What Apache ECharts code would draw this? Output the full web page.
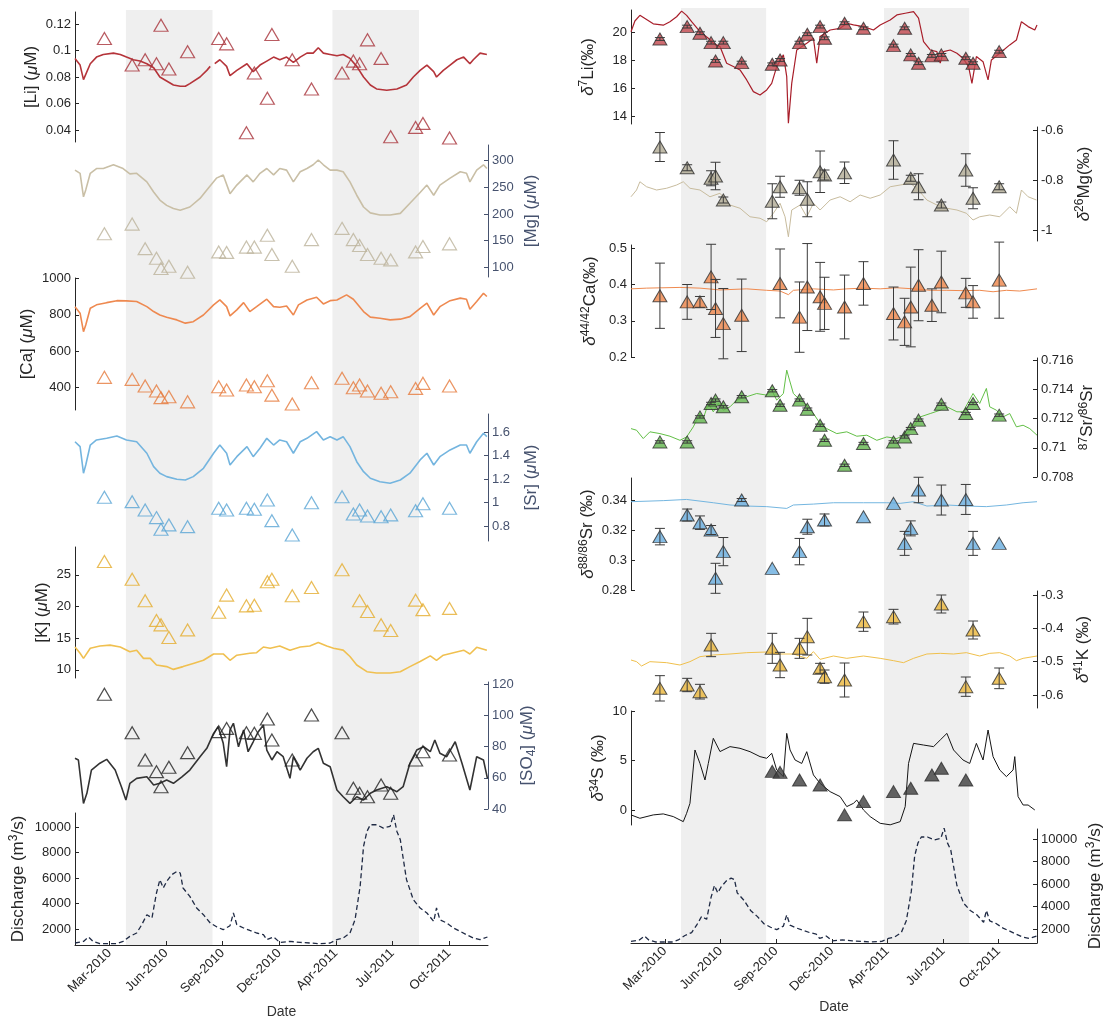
<!DOCTYPE html>
<html>
<head>
<meta charset="utf-8">
<script src="https://cdn.jsdelivr.net/npm/echarts@6/dist/echarts.min.js"></script>
<style>
  html, body { margin: 0; padding: 0; background: #ffffff; }
  #chart { width: 1109px; height: 1021px; }
</style>
</head>
<body>
<div id="chart"></div>
<script>
// Time is measured in days since 1 Jan 2010; the plotted window covers 2010-2011.
const dayRange = [0, 730];
const xTickDays = [61, 161, 261, 361, 461, 561, 661];
const xTickLabels = ['Mar-2010', 'Jun-2010', 'Sep-2010', 'Dec-2010', 'Apr-2011', 'Jul-2011', 'Oct-2011'];
// High-flow season bands (1 Apr - 1 Sep)
const seasonBands = [[90, 243], [455, 608]];

// River water sampling dates
const sampleDays = [52, 101, 124, 144, 152, 166, 199, 254, 268, 303, 317, 340, 348, 384, 418, 472, 492, 503, 517, 541, 558, 602, 615, 662];

// Measured concentrations (uM)
const liConc  = [0.109, 0.089, 0.093, 0.090, 0.119, 0.086, 0.099, 0.109, 0.105, 0.038, 0.083, 0.064, 0.112, 0.093, 0.071, 0.083, 0.092, 0.090, 0.108, 0.094, 0.035, 0.042, 0.045, 0.034];
const mgConc  = [163, 181, 135, 117, 98, 102, 91, 129, 128, 138, 138, 160, 124, 102, 152, 173, 152, 141, 124, 117, 114, 129, 139, 144];
const caConc  = [455, 444, 407, 380, 343, 348, 320, 403, 385, 413, 403, 436, 357, 308, 425, 450, 398, 413, 380, 367, 376, 394, 422, 407];
const srConc  = [1.044, 1.007, 0.936, 0.871, 0.772, 0.809, 0.794, 0.951, 0.936, 0.951, 0.942, 1.021, 0.845, 0.723, 0.998, 1.049, 0.902, 0.936, 0.885, 0.879, 0.894, 0.930, 0.989, 0.951];
const kConc   = [27.1, 24.3, 20.9, 17.8, 17.1, 15.1, 16.3, 19.1, 21.8, 20.1, 20.2, 23.9, 24.3, 21.7, 23.0, 25.8, null, 20.9, 19.2, 17.1, 16.2, 21.0, 19.5, 19.7];
const so4Conc = [113.7, 89.0, 71.5, 64.0, 54.3, 66.8, 76.2, 89.7, 91.8, 89.0, 88.6, 97.8, 84.3, 71.5, 100.4, 89.0, 53.3, 50.1, 47.9, 55.4, 50.1, 71.5, 76.8, 74.7];

// Measured isotope ratios and their uncertainties
const d7Li     = [19.52, 20.40, 19.93, 19.26, 17.96, 19.26, 17.84, 17.72, 18.03, 19.26, 19.86, 20.40, 19.57, 20.64, 20.28, 19.05, 20.28, 18.39, 17.80, 18.32, 18.39, 18.15, 17.80, 18.62];
const d7LiErr  = [0.1, 0.1, 0.1, 0.1, 0.1, 0.1, 0.1, 0.1, 0.1, 0.1, 0.1, 0.1, 0.1, 0.1, 0.1, 0.1, 0.1, 0.1, 0.1, 0.1, 0.1, 0.1, 0.1, 0.1];
const d26Mg    = [-0.668, -0.751, null, -0.793, -0.784, -0.880, null, -0.885, -0.827, -0.831, -0.877, -0.767, -0.780, -0.771, null, -0.720, null, -0.793, -0.827, null, -0.900, -0.760, -0.873, -0.827];
const d26MgErr = [0.058, 0.012, null, 0.030, 0.055, 0.012, null, 0.070, 0.042, 0.030, 0.070, 0.083, 0.020, 0.043, null, 0.077, null, 0.012, 0.052, null, 0.012, 0.065, 0.042, 0.012];
const d44Ca    = [0.369, 0.352, 0.352, 0.421, 0.334, 0.292, 0.315, null, 0.403, 0.310, 0.393, 0.366, 0.348, 0.338, 0.403, 0.320, 0.297, 0.338, 0.398, 0.343, 0.407, 0.377, 0.352, 0.412];
const d44CaErr = [0.090, 0.048, 0.015, 0.090, 0.080, 0.097, 0.100, null, 0.095, 0.097, 0.120, 0.095, 0.072, 0.088, 0.060, 0.073, 0.065, 0.110, 0.098, 0.045, 0.085, 0.040, 0.045, 0.105];
const sr8786    = [0.71040, 0.71040, 0.71211, 0.71303, 0.71326, 0.71280, 0.71349, 0.71390, 0.71291, 0.71326, 0.71264, 0.71154, 0.71051, 0.70880, 0.71029, 0.71040, 0.71074, 0.71131, 0.71189, null, 0.71298, 0.71234, 0.71303, 0.71223];
const sr8786Err = [0.00008, 0.00008, 0.00008, 0.00008, 0.00008, 0.00008, 0.00008, 0.00008, 0.00008, 0.00008, 0.00008, 0.00008, 0.00008, 0.00008, 0.00008, 0.00008, 0.00008, 0.00008, 0.00008, null, 0.00008, 0.00008, 0.00008, 0.00008];
const d88Sr    = [0.3156, 0.3300, 0.3249, 0.3200, 0.2878, 0.3056, 0.3400, 0.2944, null, 0.3056, 0.3222, null, 0.3267, null, 0.3289, 0.3378, 0.3111, 0.3211, 0.3467, null, 0.3400, 0.3404, 0.3111, 0.3111];
const d88SrErr = [0.0055, 0.0040, 0.0045, 0.0030, 0.0100, 0.0094, 0.0010, null, null, 0.0088, 0.0050, null, 0.0040, null, null, null, 0.0080, 0.0050, 0.0085, null, 0.0100, 0.0100, 0.0080, null];
const d41K     = [-0.580, -0.570, -0.590, -0.450, null, null, null, -0.460, -0.510, -0.460, -0.425, -0.520, -0.545, -0.555, -0.380, -0.365, null, null, null, null, -0.327, -0.575, -0.405, -0.550];
const d41KErr  = [0.038, 0.020, 0.022, 0.035, null, null, null, 0.045, 0.038, 0.030, 0.055, 0.015, 0.020, 0.051, 0.029, 0.022, null, null, null, null, 0.027, 0.029, 0.027, 0.031];
const d34S     = [null, null, null, null, null, null, null, 3.90, 3.80, 3.03, null, 2.53, null, -0.50, 0.84, 1.85, null, 2.19, null, 3.54, 4.21, 3.03, null, null];

// Daily model curves, [day, value]
const liConcLine = [[0,0.094],[9,0.089],[15,0.078],[19,0.082],[27,0.090],[38,0.095],[50,0.097],[68,0.098],[80,0.097],[91,0.095],[103,0.093],[115,0.092],[127,0.090],[139,0.087],[150,0.080],[162,0.077],[174,0.074],[186,0.073],[195,0.073],[203,0.075],[221,0.080],[233,0.085],[239,0.088],[243,null],[247,0.090],[256,0.093],[268,0.088],[274,0.081],[286,0.085],[304,0.090],[315,0.084],[327,0.089],[339,0.092],[351,0.095],[362,0.093],[374,0.095],[386,0.091],[398,0.095],[410,0.098],[421,0.098],[430,0.102],[439,0.098],[451,0.097],[463,0.096],[474,0.097],[486,0.094],[498,0.088],[510,0.080],[522,0.074],[533,0.071],[551,0.070],[569,0.071],[586,0.074],[598,0.080],[610,0.085],[622,0.089],[634,0.084],[639,0.080],[651,0.085],[663,0.089],[675,0.093],[687,0.095],[698,0.090],[704,0.093],[716,0.098],[728,0.097]];
const mgConcLine = [[0,282],[9,276],[15,232],[19,245],[27,276],[38,285],[50,285],[68,292],[85,285],[97,275],[109,276],[127,260],[139,241],[150,226],[162,216],[174,210],[186,207],[195,210],[203,213],[221,229],[233,245],[250,267],[262,273],[274,238],[286,254],[304,273],[315,260],[327,276],[339,285],[351,273],[362,285],[374,282],[386,260],[398,279],[410,285],[421,292],[430,301],[439,292],[451,282],[463,282],[474,279],[486,260],[498,235],[510,213],[522,202],[539,198],[557,198],[575,201],[592,220],[610,240],[622,254],[634,235],[645,254],[663,267],[681,279],[692,276],[698,260],[710,282],[722,292],[728,285]];
const caConcLine = [[0,845],[9,809],[15,707],[19,744],[27,836],[38,855],[56,867],[74,878],[91,877],[109,873],[127,845],[139,818],[150,799],[162,787],[180,772],[195,754],[209,762],[227,799],[245,855],[256,882],[268,845],[274,794],[286,827],[298,867],[309,818],[321,845],[339,886],[351,845],[362,842],[374,849],[386,799],[395,855],[410,882],[427,897],[439,860],[451,878],[463,882],[480,910],[492,886],[510,818],[522,787],[539,781],[557,772],[575,776],[592,790],[610,836],[622,864],[634,799],[645,845],[663,878],[681,892],[692,886],[698,831],[710,873],[722,919],[728,901]];
const srConcLine = [[0,1.517],[9,1.475],[15,1.249],[19,1.319],[27,1.489],[38,1.532],[56,1.546],[74,1.566],[91,1.532],[109,1.517],[127,1.419],[139,1.305],[150,1.249],[162,1.220],[180,1.197],[195,1.191],[209,1.220],[227,1.291],[245,1.419],[256,1.489],[268,1.419],[274,1.319],[286,1.390],[304,1.475],[315,1.390],[327,1.461],[339,1.546],[351,1.489],[362,1.532],[374,1.517],[386,1.419],[398,1.517],[410,1.546],[427,1.603],[439,1.532],[451,1.560],[463,1.532],[474,1.560],[486,1.475],[498,1.347],[510,1.262],[522,1.206],[539,1.177],[557,1.163],[575,1.191],[592,1.249],[610,1.362],[622,1.419],[634,1.319],[645,1.390],[663,1.447],[681,1.489],[692,1.489],[698,1.419],[710,1.517],[722,1.589],[728,1.560]];
const kConcLine = [[0,13.6],[9,12.6],[15,11.8],[27,13.4],[44,13.75],[62,13.9],[80,13.6],[97,12.85],[109,13.1],[121,11.8],[133,11.8],[144,10.75],[162,10.5],[174,10.06],[191,10.5],[209,11.0],[227,11.5],[245,12.5],[262,12.5],[274,11.5],[286,12.3],[309,12.6],[321,12.7],[333,13.6],[345,13.4],[362,13.75],[380,13.1],[398,13.6],[415,13.75],[430,14.3],[445,13.75],[457,13.4],[474,13.1],[486,12.1],[498,10.75],[516,9.7],[533,9.5],[557,9.5],[575,9.7],[592,10.5],[610,11.3],[628,12.2],[639,11.5],[651,12.3],[669,12.7],[687,13.1],[698,12.5],[710,13.55],[728,13.1]];
const so4ConcLine = [[0,72.6],[6,71.5],[15,43.6],[21,50.1],[29,65.0],[44,69.4],[56,71.9],[71,65.0],[82,54.3],[90,45.8],[97,56.5],[109,59.7],[127,60.7],[139,55.4],[150,56.5],[162,58.6],[174,56.5],[189,60.7],[203,65.0],[221,73.6],[233,79.0],[245,88.6],[253,92.9],[262,82.2],[268,67.2],[274,90.8],[280,95.1],[289,80.0],[298,90.8],[306,76.8],[315,83.2],[324,89.7],[333,94.0],[339,77.9],[348,71.5],[357,76.8],[368,73.6],[380,59.7],[386,73.6],[398,65.0],[410,72.6],[421,76.8],[430,79.0],[439,69.4],[451,67.2],[463,52.2],[474,47.9],[486,43.6],[498,47.9],[510,45.8],[522,50.1],[533,52.2],[551,54.3],[569,51.1],[580,54.3],[592,69.4],[604,77.9],[616,80.0],[628,76.8],[636,84.3],[645,75.8],[657,73.6],[672,83.2],[684,69.4],[698,52.2],[710,73.6],[722,71.5],[729,59.7]];
// River discharge (m3/s)
const discharge = [[0,902],[15,1028],[24,1373],[32,1028],[44,847],[62,847],[74,847],[85,1028],[97,1420],[109,1686],[118,2337],[127,3122],[136,2863],[144,4823],[150,5867],[156,5216],[162,5733],[171,6259],[180,6518],[186,6392],[191,5216],[203,4557],[215,3647],[227,3122],[239,2471],[251,2157],[262,1945],[274,2259],[280,3255],[286,2337],[298,2079],[309,1890],[321,1686],[333,1553],[339,1161],[351,1373],[362,949],[380,1028],[398,949],[415,902],[433,847],[451,902],[463,1161],[474,1294],[486,1686],[495,2729],[504,5342],[510,8478],[516,9655],[522,10180],[533,10180],[545,9920],[557,10050],[563,10965],[569,9655],[575,9004],[580,7568],[586,5867],[598,4298],[610,3647],[622,3255],[634,2596],[639,3647],[645,2729],[657,2471],[669,2079],[681,1812],[692,1553],[704,1294],[716,1161],[729,1373]];

const d7LiLine = [[0,20.04],[7,20.8],[16,21.2],[28,20.9],[40,20.6],[58,20.5],[70,20.75],[82,21.1],[91,21.5],[100,21.2],[109,20.75],[124,20.04],[139,19.57],[148,19.22],[160,18.98],[172,17.8],[184,17.56],[196,17.32],[208,16.61],[220,15.78],[232,15.54],[244,15.9],[253,16.37],[262,17.56],[274,18.39],[280,16.84],[283,13.53],[289,16.37],[298,18.74],[316,19.22],[328,19.57],[334,17.8],[340,19.69],[358,20.16],[376,20.28],[388,20.64],[400,20.52],[418,20.4],[436,20.16],[448,20.52],[466,20.87],[478,21.23],[493,21.35],[508,21.46],[517,21.0],[526,19.33],[538,18.74],[550,18.62],[556,17.8],[562,18.62],[574,18.74],[586,18.51],[597,18.15],[607,17.56],[613,16.37],[621,18.27],[633,17.91],[642,16.61],[648,18.03],[663,18.51],[681,19.1],[693,19.45],[702,20.75],[714,20.4],[726,20.16],[730,20.52]];
const d26MgLine = [[0,-0.867],[10,-0.84],[16,-0.807],[28,-0.827],[46,-0.84],[64,-0.833],[82,-0.82],[94,-0.807],[106,-0.833],[124,-0.84],[142,-0.867],[160,-0.853],[178,-0.9],[196,-0.913],[214,-0.947],[232,-0.953],[244,-0.967],[256,-0.933],[268,-0.893],[277,-0.947],[283,-1.027],[289,-0.92],[304,-0.9],[316,-0.947],[328,-0.893],[340,-0.92],[358,-0.88],[376,-0.867],[394,-0.887],[412,-0.86],[430,-0.873],[448,-0.86],[466,-0.827],[484,-0.82],[502,-0.813],[514,-0.833],[532,-0.88],[550,-0.9],[568,-0.913],[586,-0.92],[603,-0.933],[615,-0.96],[627,-0.947],[645,-0.94],[663,-0.947],[681,-0.907],[693,-0.933],[702,-0.84],[714,-0.867],[729,-0.88]];
const d44CaLine = [[0,0.388],[28,0.390],[88,0.392],[124,0.390],[160,0.385],[208,0.388],[244,0.384],[268,0.382],[283,0.372],[292,0.384],[328,0.388],[364,0.385],[388,0.388],[418,0.390],[448,0.388],[478,0.391],[508,0.388],[538,0.384],[568,0.384],[597,0.383],[627,0.384],[651,0.380],[675,0.384],[699,0.382],[730,0.388]];
const sr8786Line = [[0,0.71131],[10,0.7112],[22,0.71063],[34,0.71109],[52,0.71097],[70,0.71079],[88,0.71051],[100,0.71074],[112,0.71143],[118,0.71189],[124,0.71234],[130,0.712],[139,0.71303],[148,0.71246],[157,0.71303],[166,0.71257],[178,0.7128],[190,0.71326],[208,0.71349],[226,0.71371],[244,0.7136],[253,0.71394],[262,0.71326],[274,0.71371],[280,0.71531],[285,0.71463],[292,0.71371],[304,0.71326],[316,0.71291],[328,0.71234],[340,0.71166],[352,0.71131],[370,0.71097],[388,0.71109],[406,0.71079],[424,0.71086],[442,0.71051],[460,0.71074],[478,0.71063],[496,0.71097],[508,0.71143],[520,0.71211],[538,0.71234],[556,0.71257],[568,0.7128],[586,0.71246],[597,0.71246],[615,0.71371],[627,0.71303],[639,0.71406],[645,0.7128],[657,0.71257],[669,0.71211],[681,0.71234],[693,0.71143],[705,0.71154],[717,0.71131],[730,0.71086]];
const d88SrLine = [[0,0.3389],[58,0.3396],[100,0.3404],[148,0.3382],[178,0.3367],[208,0.336],[244,0.3356],[280,0.3344],[292,0.3367],[328,0.3373],[364,0.3382],[418,0.3382],[460,0.3382],[484,0.3378],[508,0.3389],[532,0.336],[568,0.3367],[603,0.336],[639,0.3356],[675,0.3367],[705,0.3382],[730,0.3389]];
const d41KLine = [[0,-0.495],[10,-0.5],[19,-0.513],[34,-0.5],[64,-0.503],[88,-0.51],[106,-0.5],[124,-0.485],[148,-0.48],[178,-0.477],[208,-0.473],[244,-0.471],[268,-0.477],[292,-0.477],[316,-0.49],[328,-0.47],[340,-0.493],[364,-0.483],[388,-0.49],[418,-0.483],[448,-0.49],[472,-0.497],[490,-0.503],[508,-0.49],[532,-0.477],[556,-0.475],[580,-0.477],[603,-0.473],[627,-0.483],[645,-0.475],[663,-0.473],[681,-0.483],[693,-0.497],[705,-0.49],[730,-0.483]];
const d34SLine = [[0,-0.5],[16,-0.84],[40,-0.5],[58,-0.4],[76,-0.67],[94,-1.18],[100,-0.34],[106,0.67],[115,6.06],[124,4.7],[133,3.03],[139,4.7],[148,7.24],[160,5.9],[178,6.4],[196,6.23],[214,5.89],[232,5.39],[244,5.22],[253,5.73],[262,4.04],[274,3.37],[280,7.74],[286,6.06],[295,5.05],[307,4.7],[316,5.89],[328,3.54],[340,2.69],[358,1.85],[376,1.35],[388,0.34],[400,0.67],[406,1.0],[418,0],[430,-0.67],[448,-1.35],[466,-1.5],[484,-1.18],[493,0.34],[499,4.7],[508,6.73],[526,6.56],[544,6.4],[556,7.07],[568,7.74],[580,6.06],[597,5.05],[609,4.7],[621,6.73],[633,5.05],[642,8.08],[651,5.39],[663,4.04],[675,3.37],[687,4.04],[690,5.39],[696,1.35],[705,0.5],[714,0.5],[726,0]];

// ---------------------------------------------------------------------------
const FONT = '"Liberation Sans", Arial, Helvetica, sans-serif';
const INK = '#262626';
const SLATE = '#46526e';
const COLS = { L: { left: 75, width: 413 }, R: { left: 631, width: 406 } };

const fmtNum = v => String(parseFloat(Number(v).toPrecision(6)));
const dateLabel = v => {
  const i = xTickDays.indexOf(Math.round(v));
  return i >= 0 ? xTickLabels[i] : '';
};

function nameStyle(color, size) {
  const sub = Math.round(size * 0.68);
  return {
    color, fontFamily: FONT, fontSize: size, lineHeight: size + 3,
    rich: {
      t: { color, fontFamily: FONT, fontSize: size, lineHeight: size + 3 },
      i: { color, fontFamily: FONT, fontSize: size, fontStyle: 'italic', lineHeight: size + 3 },
      s: { color, fontFamily: FONT, fontSize: sub, lineHeight: sub, verticalAlign: 'top' },
      b: { color, fontFamily: FONT, fontSize: sub, lineHeight: sub, verticalAlign: 'bottom' }
    }
  };
}

const grids = [], xAxes = [], yAxes = [], series = [];

// Shaded seasonal bands behind each column
function addBackdrop(col, top, height) {
  const idx = grids.length;
  grids.push({ left: COLS[col].left, width: COLS[col].width, top, height });
  xAxes.push({ type: 'value', gridIndex: idx, min: dayRange[0], max: dayRange[1], show: false });
  yAxes.push({ type: 'value', gridIndex: idx, min: 0, max: 1, show: false });
  series.push({
    type: 'custom', xAxisIndex: idx, yAxisIndex: idx, z: 0, silent: true,
    data: seasonBands,
    encode: { x: [0, 1] },
    renderItem: (params, api) => {
      const a = api.coord([api.value(0), 0]);
      const b = api.coord([api.value(1), 0]);
      return { type: 'rect', shape: { x: a[0], y: params.coordSys.y, width: b[0] - a[0], height: params.coordSys.height },
               style: { fill: '#efefef' } };
    }
  });
}

function addPanel(p) {
  const idx = grids.length;
  const col = COLS[p.col];
  const color = p.axisColor || INK;
  grids.push({ left: col.left, width: col.width, top: p.top, height: p.height });
  if (p.dateAxis) {
    xAxes.push({
      type: 'value', gridIndex: idx, min: dayRange[0], max: dayRange[1], position: 'bottom',
      axisLine: { show: true, onZero: false, lineStyle: { color: INK, width: 1 } },
      axisTick: { show: true, inside: true, length: 4, customValues: xTickDays, lineStyle: { color: INK } },
      axisLabel: { show: true, rotate: 45, customValues: xTickDays, formatter: dateLabel,
                   fontSize: 13, color: INK, fontFamily: FONT, margin: 6 },
      splitLine: { show: false },
      name: 'Date', nameLocation: 'middle', nameGap: p.dateGap,
      nameTextStyle: { fontSize: 14, color: '#333', fontFamily: FONT }
    });
  } else {
    xAxes.push({ type: 'value', gridIndex: idx, min: dayRange[0], max: dayRange[1], show: false });
  }
  yAxes.push({
    type: 'value', gridIndex: idx, position: p.side, min: p.min, max: p.max,
    axisLine: { show: true, onZero: false, lineStyle: { color, width: 1 } },
    axisTick: { show: true, inside: true, length: 4, customValues: p.ticks, lineStyle: { color } },
    axisLabel: { show: true, customValues: p.ticks, formatter: fmtNum, fontSize: 13, color, fontFamily: FONT, margin: 4 },
    splitLine: { show: false },
    name: p.name, nameLocation: 'middle', nameGap: p.nameGap, nameRotate: 90,
    nameTextStyle: nameStyle(color, 17)
  });
  return idx;
}

function addLine(idx, data, color, width, dashed) {
  series.push({
    type: 'line', xAxisIndex: idx, yAxisIndex: idx, data, showSymbol: false, z: 2,
    connectNulls: false, clip: false, silent: true,
    lineStyle: { color, width, type: dashed ? [5, 3] : 'solid' }
  });
}

function samplePoints(values) {
  return sampleDays.map((d, i) => values[i] == null ? null : [d, values[i]]).filter(Boolean);
}

function addOpenTriangles(idx, values, color) {
  series.push({
    type: 'scatter', xAxisIndex: idx, yAxisIndex: idx, data: samplePoints(values), z: 3, silent: true,
    symbol: 'triangle', symbolSize: [14, 12], clip: false,
    itemStyle: { color: 'rgba(255,255,255,0)', borderColor: color, borderWidth: 1.2 }
  });
}

function addFilledTriangles(idx, values, fill) {
  series.push({
    type: 'scatter', xAxisIndex: idx, yAxisIndex: idx, data: samplePoints(values), z: 3, silent: true,
    symbol: 'triangle', symbolSize: [14, 12], clip: false,
    itemStyle: { color: fill, borderColor: '#2e2e2e', borderWidth: 1 }
  });
}

function addErrorBars(idx, values, errs) {
  const data = sampleDays.map((d, i) =>
    (values[i] == null || errs[i] == null) ? null : [d, values[i] - errs[i], values[i] + errs[i]]
  ).filter(Boolean);
  series.push({
    type: 'custom', xAxisIndex: idx, yAxisIndex: idx, data, z: 4, silent: true, clip: false,
    encode: { x: 0, y: [1, 2] },
    renderItem: (params, api) => {
      const lo = api.coord([api.value(0), api.value(1)]);
      const hi = api.coord([api.value(0), api.value(2)]);
      const h = 5;
      const style = { stroke: '#3a3a3a', lineWidth: 1, fill: null };
      return { type: 'group', children: [
        { type: 'line', shape: { x1: hi[0], y1: hi[1], x2: lo[0], y2: lo[1] }, style },
        { type: 'line', shape: { x1: hi[0] - h, y1: hi[1], x2: hi[0] + h, y2: hi[1] }, style },
        { type: 'line', shape: { x1: lo[0] - h, y1: lo[1], x2: lo[0] + h, y2: lo[1] }, style }
      ] };
    }
  });
}

addBackdrop('L', 10, 935);
addBackdrop('R', 8, 935);

// ---- left column: concentrations ----
let g;
g = addPanel({ col: 'L', top: 12, height: 130, side: 'left', min: 0.031, max: 0.129, ticks: [0.04, 0.06, 0.08, 0.1, 0.12],
               name: '{t|[Li] (}{i|μ}{t|M)}', nameGap: 33 });
addLine(g, liConcLine, '#b5343a', 1.6);
addOpenTriangles(g, liConc, '#a8323a');

g = addPanel({ col: 'L', top: 145, height: 132, side: 'right', min: 82, max: 329, ticks: [100, 150, 200, 250, 300],
               name: '{t|[Mg] (}{i|μ}{t|M)}', nameGap: 33, axisColor: SLATE });
addLine(g, mgConcLine, '#c9bfa6', 1.6);
addOpenTriangles(g, mgConc, '#bcb39b');

g = addPanel({ col: 'L', top: 278, height: 132, side: 'left', min: 275, max: 1003, ticks: [400, 600, 800, 1000],
               name: '{t|[Ca] (}{i|μ}{t|M)}', nameGap: 38 });
addLine(g, caConcLine, '#ee8950', 1.6);
addOpenTriangles(g, caConc, '#e67a3c');

g = addPanel({ col: 'L', top: 414, height: 127, side: 'right', min: 0.672, max: 1.753, ticks: [0.8, 1, 1.2, 1.4, 1.6],
               name: '{t|[Sr] (}{i|μ}{t|M)}', nameGap: 33, axisColor: SLATE });
addLine(g, srConcLine, '#74b5df', 1.6);
addOpenTriangles(g, srConc, '#5aa5d5');

g = addPanel({ col: 'L', top: 547, height: 131, side: 'left', min: 8.7, max: 29.4, ticks: [10, 15, 20, 25],
               name: '{t|[K] (}{i|μ}{t|M)}', nameGap: 23 });
addLine(g, kConcLine, '#f0c050', 1.6);
addOpenTriangles(g, kConc, '#e5ad2e');

g = addPanel({ col: 'L', top: 682, height: 127, side: 'right', min: 40, max: 121.6, ticks: [40, 60, 80, 100, 120],
               name: '{t|[SO}{b|4}{t|] (}{i|μ}{t|M)}', nameGap: 29, axisColor: SLATE });
addLine(g, so4ConcLine, '#333333', 1.6);
addOpenTriangles(g, so4Conc, '#222222');

g = addPanel({ col: 'L', top: 813, height: 132, side: 'left', min: 745, max: 11100, ticks: [2000, 4000, 6000, 8000, 10000],
               name: '{t|Discharge (m}{s|3}{t|/s)}', nameGap: 47, dateAxis: true, dateGap: 60 });
addLine(g, discharge, '#1f2a44', 1.3, true);

// ---- right column: isotopes ----
g = addPanel({ col: 'R', top: 10, height: 114, side: 'left', min: 13.48, max: 21.58, ticks: [14, 16, 18, 20],
               name: '{i|δ}{s|7}{t|Li(‰)}', nameGap: 33 });
addLine(g, d7LiLine, '#a81e2a', 1.2);
addFilledTriangles(g, d7Li, '#c2474d');
addErrorBars(g, d7Li, d7LiErr);

g = addPanel({ col: 'R', top: 127, height: 114, side: 'right', min: -1.044, max: -0.588, ticks: [-1, -0.8, -0.6],
               name: '{i|δ}{s|26}{t|Mg(‰)}', nameGap: 37 });
addLine(g, d26MgLine, '#c8bc9e', 1);
addFilledTriangles(g, d26Mg, '#b0aa94');
addErrorBars(g, d26Mg, d26MgErr);

g = addPanel({ col: 'R', top: 245, height: 112, side: 'left', min: 0.2, max: 0.509, ticks: [0.2, 0.3, 0.4, 0.5],
               name: '{i|δ}{s|44/42}{t|Ca(‰)}', nameGap: 31 });
addLine(g, d44CaLine, '#ef8a4f', 1);
addFilledTriangles(g, d44Ca, '#ee8448');
addErrorBars(g, d44Ca, d44CaErr);

g = addPanel({ col: 'R', top: 358, height: 119, side: 'right', min: 0.708, max: 0.71614, ticks: [0.708, 0.71, 0.712, 0.714, 0.716],
               name: '{s|87}{t|Sr/}{s|86}{t|Sr}', nameGap: 39 });
addLine(g, sr8786Line, '#62bf46', 1);
addFilledTriangles(g, sr8786, '#62b54c');
addErrorBars(g, sr8786, sr8786Err);

g = addPanel({ col: 'R', top: 478, height: 112, side: 'left', min: 0.28, max: 0.3547, ticks: [0.28, 0.3, 0.32, 0.34],
               name: '{i|δ}{s|88/86}{t|Sr (‰)}', nameGap: 31 });
addLine(g, d88SrLine, '#74b6e0', 1);
addFilledTriangles(g, d88Sr, '#68acdf');
addErrorBars(g, d88Sr, d88SrErr);

g = addPanel({ col: 'R', top: 591, height: 117, side: 'right', min: -0.639, max: -0.288, ticks: [-0.6, -0.5, -0.4, -0.3],
               name: '{i|δ}{s|41}{t|K (‰)}', nameGap: 36 });
addLine(g, d41KLine, '#f0c04c', 1);
addFilledTriangles(g, d41K, '#eab53a');
addErrorBars(g, d41K, d41KErr);

g = addPanel({ col: 'R', top: 711, height: 114, side: 'left', min: -1.52, max: 10, ticks: [0, 5, 10],
               name: '{i|δ}{s|34}{t|S (‰)}', nameGap: 21 });
addLine(g, d34SLine, '#151515', 1);
addFilledTriangles(g, d34S, '#3d3d3d');

g = addPanel({ col: 'R', top: 829, height: 114, side: 'right', min: 756, max: 10889, ticks: [2000, 4000, 6000, 8000, 10000],
               name: '{t|Discharge (m}{s|3}{t|/s)}', nameGap: 48, dateAxis: true, dateGap: 57 });
addLine(g, discharge, '#1f2a44', 1.3, true);

const chart = echarts.init(document.getElementById('chart'), null, { renderer: 'canvas' });
chart.setOption({
  animation: false,
  backgroundColor: '#ffffff',
  textStyle: { fontFamily: FONT },
  grid: grids,
  xAxis: xAxes,
  yAxis: yAxes,
  series
});
</script>
</body>
</html>
